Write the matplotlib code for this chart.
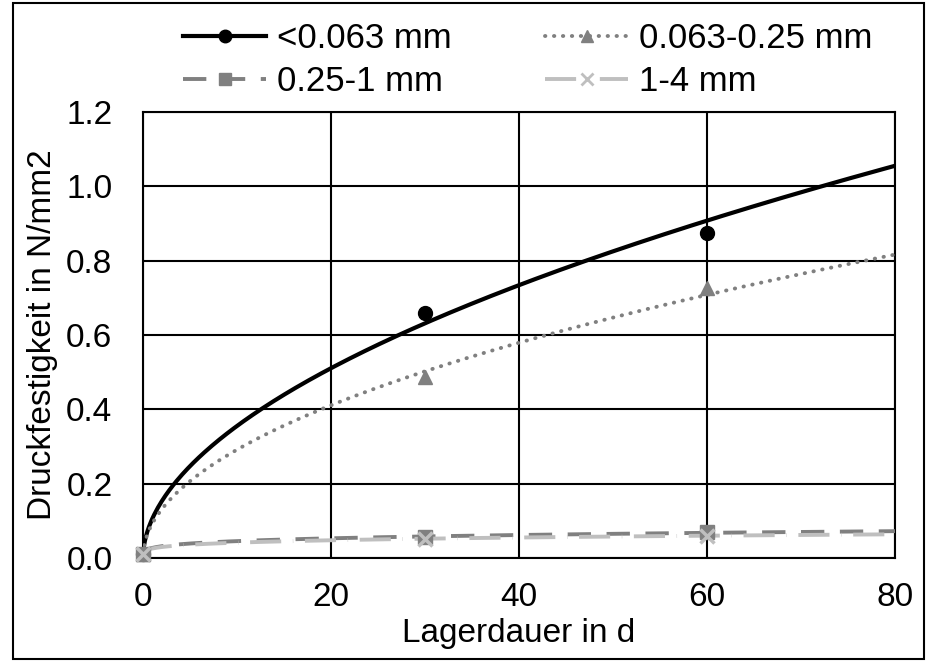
import numpy as np
import matplotlib.pyplot as plt
from matplotlib.lines import Line2D
from matplotlib.patches import Rectangle

plt.rcParams['font.family'] = ['Liberation Sans', 'DejaVu Sans']

# storage time in days (first test right after mixing, ~15 min;
# power trendlines need x > 0)
days = [0.011, 30, 60]

labels = ['<0.063 mm', '0.063-0.25 mm', '0.25-1 mm', '1-4 mm']
fine = [0.010, 0.658, 0.874]
mid = [0.010, 0.488, 0.727]
coarse = [0.010, 0.056, 0.070]
gravel = [0.010, 0.052, 0.060]

xticks = [0, 20, 40, 60, 80]
yticks = [0.0, 0.2, 0.4, 0.6, 0.8, 1.0, 1.2]

colors = ['black', '#808080', '#808080', '#bfbfbf']
markers = ['o', '^', 's', 'x']
styles = ['-', (0, (0.1, 2.2)), (0, (6, 4)), (0, (8, 3, 0.1, 3))]
widths = [3.0, 2.8, 2.8, 2.8]


def power_trend(x, y):
    # least squares in log-log space, like a spreadsheet power trendline
    b, ln_a = np.polyfit(np.log(x), np.log(y), 1)
    return np.exp(ln_a), b


fig = plt.figure(figsize=(9.27, 6.62), dpi=100)
ax = fig.add_axes([143 / 927, 1 - 558 / 662, (895 - 143) / 927, (558 - 112) / 662])

xs = np.concatenate([np.geomspace(days[0], 1, 60), np.linspace(1, 80, 400)[1:]])
handles = []
for vals, lab, c, m, ls, lw in zip([fine, mid, coarse, gravel], labels,
                                   colors, markers, styles, widths):
    a, b = power_trend(days, vals)
    ax.plot(xs, a * xs ** b, color=c, ls=ls, lw=lw, solid_capstyle='butt',
            dash_capstyle='round' if m == '^' else 'butt', zorder=3)
    mk = dict(marker=m, color=c, ms=10, mew=2.5 if m == 'x' else 1, ls='none')
    ax.plot(days, vals, clip_on=False, zorder=4, **mk)
    handles.append(Line2D([], [], color=c, ls=ls, lw=lw, marker=m, ms=9,
                          mew=2 if m == 'x' else 1,
                          dash_capstyle='round' if m == '^' else 'butt',
                          label=lab))

ax.set_xlim(0, 80)
ax.set_ylim(0, 1.2)
ax.set_xticks(xticks)
ax.set_yticks(yticks)
ax.set_yticklabels([f'{v:.1f}' for v in yticks])
ax.grid(True, color='black', lw=1.5)
ax.set_axisbelow(True)
for s in ax.spines.values():
    s.set_linewidth(1.5)
ax.tick_params(axis='both', length=0, labelsize=24)
ax.tick_params(axis='x', pad=17)
ax.tick_params(axis='y', pad=22)
ax.set_xlabel('Lagerdauer in d', fontsize=24, labelpad=4)
ax.set_ylabel('Druckfestigkeit in N/mm2', fontsize=24, labelpad=6)

# legend fills column-wise, reorder so rows read like the original
order = [0, 2, 1, 3]
fig.legend(handles=[handles[i] for i in order], ncol=2, loc='upper left',
           bbox_to_anchor=(183 / 927, 1 - 22 / 662), frameon=False,
           fontsize=25, handlelength=2.4, handletextpad=0.3,
           columnspacing=2.7, labelspacing=0.3, borderpad=0, borderaxespad=0)

fig.patches.append(Rectangle((13 / 927, 3 / 662), 911 / 927, 656 / 662,
                             transform=fig.transFigure, fill=False,
                             ec='black', lw=1.5))

fig.savefig('out.png', dpi=100)
